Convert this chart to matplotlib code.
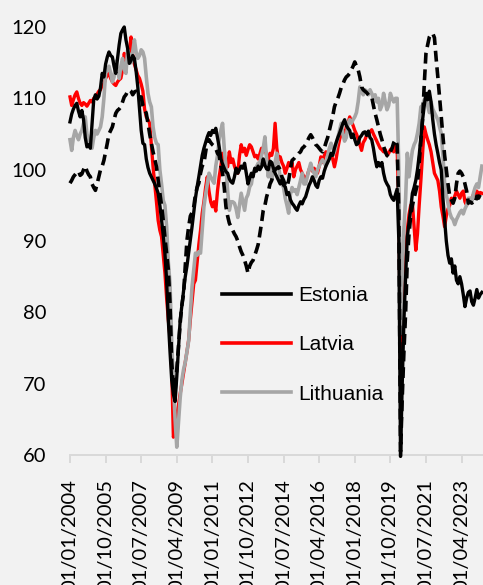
import matplotlib
matplotlib.use('Agg')
import matplotlib.pyplot as plt
import numpy as np
import pandas as pd

# monthly values, Jan 2004 - Apr 2024
estonia = [
    106.7, 107.8, 108.5, 109.0, 109.3, 108.2, 107.4, 108.3, 107.0, 104.5, 103.2, 103.5,
    103.0, 106.5, 109.8, 110.5, 109.9, 110.3, 111.5, 113.5, 113.0, 114.8, 115.8, 116.5,
    116.0, 115.8, 114.5, 113.5, 115.5, 117.5, 119.1, 119.6, 120.0, 118.2, 117.0, 114.9,
    115.3, 116.0, 115.6, 113.8, 111.6, 108.5, 105.5, 103.7, 103.5, 101.5, 100.3, 99.5,
    99.0, 98.5, 98.0, 97.4, 96.7, 95.0, 93.0, 90.8, 88.3, 84.5, 78.9, 74.5,
    70.5, 68.5, 67.5, 71.0, 75.0, 78.9, 81.0, 83.0, 85.0, 86.5, 88.3, 90.0,
    92.0, 94.0, 96.0, 97.6, 99.0, 100.5, 102.0, 103.0, 103.8, 104.6, 105.2, 104.8,
    105.5, 105.2, 105.8, 104.5, 103.2, 101.5, 100.8, 100.2, 99.7, 99.5, 98.7, 98.3,
    98.1, 99.0, 100.2, 99.5, 100.0, 100.5, 100.2, 100.9, 99.5, 98.0, 98.8, 99.5,
    99.0, 100.2, 99.8, 100.5, 100.0, 100.4, 101.5, 100.6, 100.1, 100.0, 101.2, 101.0,
    100.2, 99.5, 99.0, 98.5, 98.0, 98.6, 97.8, 97.6, 96.5, 96.8, 95.8, 95.3,
    95.0, 94.6, 94.3, 95.0, 95.5, 95.2, 95.8, 96.2, 97.0, 97.8, 98.3, 99.0,
    98.5, 97.8, 97.5, 98.5, 99.0, 98.8, 99.8, 100.5, 101.0, 101.5, 102.3, 102.0,
    103.0, 103.8, 104.5, 105.1, 105.8, 106.5, 107.0, 106.2, 105.8, 105.5, 104.5, 105.0,
    104.2, 103.5, 103.7, 104.5, 104.8, 105.2, 105.3, 104.8, 105.4, 104.5, 104.2, 103.0,
    101.5, 100.4, 101.0, 100.5, 101.0, 99.5, 98.5, 98.0, 97.6, 96.5, 96.0, 95.7,
    96.5, 97.3, 90.0, 59.8, 70.0, 78.9, 85.0, 90.6, 92.5, 94.5, 96.7, 97.5,
    98.5, 100.0, 102.0, 104.5, 107.0, 109.0, 110.7, 109.8, 111.0, 109.5, 107.0, 105.0,
    103.5, 102.3, 101.0, 100.0, 96.0, 92.9, 90.0, 88.0, 86.9, 87.5, 85.5, 86.5,
    84.5, 84.0, 85.0, 84.0, 82.5, 80.8, 82.0, 82.8, 83.0, 81.5, 81.0, 82.0,
    83.2, 82.0, 82.5, 82.8,
]

latvia = [
    110.2, 109.0, 109.8, 110.5, 110.9, 110.0, 109.3, 109.0, 109.4, 109.2, 108.9, 109.3,
    109.7, 109.5, 110.0, 110.2, 110.6, 111.0, 111.2, 111.8, 112.0, 112.8, 113.2, 113.5,
    112.8, 112.3, 112.0, 111.8, 112.3, 112.6, 112.8, 114.0, 116.3, 115.5, 115.0, 116.5,
    118.6, 116.0, 114.8, 114.0, 113.2, 112.8, 112.0, 111.0, 108.5, 107.4, 107.0, 106.5,
    103.5, 100.4, 98.0, 95.5, 92.9, 91.5, 90.6, 88.0, 85.5, 82.0, 79.0, 76.5,
    72.0, 62.5, 63.5, 65.5, 67.0, 68.6, 70.0, 71.5, 73.0, 74.5, 76.1, 79.0,
    81.5, 84.0, 84.5, 87.0, 89.5, 91.5, 93.9, 95.5, 97.5, 99.0, 97.0, 95.5,
    94.8, 95.5, 94.2, 97.0, 99.0, 100.5, 102.3, 101.5, 101.0, 100.4, 102.5, 101.0,
    101.5, 100.5, 99.8, 99.5, 102.0, 103.5, 102.5, 103.0, 102.0, 102.8, 103.5, 103.2,
    102.5, 101.8, 102.0, 101.5, 102.2, 103.0, 102.5, 103.0, 102.0, 101.5, 102.3, 102.0,
    103.0, 106.5, 103.0, 101.4, 101.8, 101.0, 100.5, 99.5, 100.2, 101.0, 100.5, 101.0,
    99.0, 100.0, 100.5, 101.0, 100.0, 99.5, 99.0, 98.6, 99.2, 100.0, 100.5, 99.8,
    100.2, 99.8, 99.5, 100.5, 101.8, 101.0, 102.0, 102.5, 102.2, 101.8, 102.0, 101.5,
    100.4, 101.5, 103.0, 104.2, 105.1, 105.5, 104.5, 106.0, 106.5, 107.4, 106.8, 106.2,
    105.5, 105.0, 104.3, 103.5, 102.7, 103.8, 104.2, 104.8, 105.0, 105.3, 105.6, 105.0,
    104.5, 104.0, 103.5, 103.0, 102.8, 102.5, 102.8, 102.0, 102.3, 102.8, 103.0, 102.5,
    103.5, 103.0, 95.0, 73.3, 77.0, 83.6, 88.0, 91.5, 93.7, 95.0, 95.3, 92.0,
    88.7, 91.0, 95.0, 98.5, 102.3, 106.0, 105.0, 104.2, 103.5, 102.5, 101.0, 99.5,
    99.0, 98.5, 97.0, 94.8, 93.5, 92.0, 93.5, 94.5, 95.0, 96.0, 95.5, 96.3,
    97.0, 96.5, 96.0, 96.7, 97.0, 95.5, 95.0, 95.8, 95.5, 96.0, 96.5, 96.7,
    97.0, 96.5, 96.8, 96.7,
]

lithuania = [
    104.2, 102.7, 104.5, 105.5, 104.8, 104.2, 105.0, 105.5, 106.5, 107.4, 105.0, 104.2,
    103.2, 103.0, 104.5, 105.5, 105.0, 105.5, 106.0, 107.4, 110.0, 113.5, 114.0, 114.5,
    113.5, 112.3, 113.0, 115.2, 114.0, 112.8, 114.5, 115.6, 114.0, 113.5, 116.8, 116.0,
    115.0, 116.5, 118.2, 116.5, 115.6, 116.0, 116.8, 116.5, 115.6, 113.0, 110.7, 109.5,
    108.8, 106.0, 104.5, 103.7, 103.5, 100.0, 98.0, 95.7, 95.0, 92.0, 87.0, 84.0,
    76.0, 70.0, 65.0, 61.1, 64.5, 68.0, 70.5, 72.0, 73.0, 74.5, 76.0, 80.0,
    83.6, 86.0, 88.3, 88.0, 88.5, 88.3, 91.5, 94.8, 96.5, 98.0, 99.5, 99.0,
    98.5, 98.1, 100.5, 102.0, 104.2, 105.5, 106.5, 103.0, 100.4, 97.0, 94.3, 95.5,
    95.5, 95.3, 94.5, 93.3, 95.0, 96.7, 95.5, 94.3, 96.0, 96.5, 97.6, 98.0,
    99.5, 100.0, 100.4, 100.9, 101.0, 102.0, 103.0, 104.6, 101.4, 99.0, 101.0, 98.6,
    100.0, 101.0, 102.3, 100.5, 99.0, 98.0, 97.5, 96.0, 95.0, 93.9, 96.5, 97.5,
    97.0, 97.2, 96.5, 97.5, 98.5, 99.5, 98.0, 98.0, 99.0, 100.0, 100.9, 100.0,
    99.5, 99.0, 100.0, 100.5, 101.0, 101.4, 101.0, 100.5, 102.0, 103.0, 103.7, 103.0,
    102.5, 103.5, 104.5, 105.5, 106.5, 105.0, 104.0, 104.5, 106.5, 107.0, 106.5, 107.0,
    107.4, 108.0, 109.5, 111.6, 111.0, 110.5, 111.2, 111.0, 110.5, 111.2, 110.7, 110.0,
    110.5, 109.5, 110.0, 108.4, 109.0, 110.7, 109.5, 108.4, 109.0, 110.7, 110.0, 109.5,
    110.0, 110.0, 100.0, 77.0, 85.0, 91.8, 96.0, 102.3, 99.0, 101.0, 102.7, 103.5,
    104.0, 105.1, 106.5, 108.8, 109.0, 109.8, 110.0, 109.0, 108.0, 109.5, 108.5, 108.0,
    107.5, 107.0, 106.0, 105.1, 102.0, 98.1, 96.5, 95.3, 94.0, 93.3, 93.0, 92.3,
    93.0, 93.5, 94.0, 94.3, 93.8, 94.5, 95.0, 96.0, 96.0, 95.5, 96.7, 97.5,
    98.0, 97.5, 99.0, 100.5,
]

# dashed black series, not in the legend
other = [
    98.1, 98.5, 99.0, 99.3, 99.6, 99.8, 99.2, 99.4, 100.0, 100.5, 99.8, 99.3,
    99.0, 98.0, 97.5, 97.1, 98.0, 99.0, 100.0, 100.5, 101.3, 102.5, 103.7, 105.0,
    105.5, 106.0, 107.0, 107.9, 108.3, 108.5, 108.8, 109.5, 110.2, 110.5, 111.0, 111.2,
    111.0, 110.5, 110.9, 111.0, 110.6, 110.2, 110.2, 109.0, 108.5, 107.9, 106.5, 105.0,
    103.7, 102.5, 101.5, 100.4, 98.5, 96.7, 95.0, 92.9, 90.5, 88.3, 86.0, 81.3,
    73.0, 69.5, 69.1, 72.0, 75.2, 78.5, 81.0, 82.6, 86.5, 90.1, 92.0, 93.5,
    94.0, 94.8, 96.5, 97.5, 98.1, 99.5, 100.5, 100.9, 102.5, 104.0, 104.2, 103.8,
    103.5, 103.3, 103.0, 102.3, 102.0, 100.5, 99.5, 97.5, 94.8, 93.5, 92.5, 92.0,
    91.5, 91.0, 90.6, 90.0, 89.2, 88.5, 88.0, 87.3, 86.5, 85.5, 86.5, 87.0,
    87.3, 88.0, 88.7, 89.5, 91.0, 92.5, 94.3, 95.0, 96.2, 97.0, 98.0, 98.5,
    99.5, 100.0, 100.2, 100.4, 100.0, 99.0, 98.5, 97.8, 97.6, 98.5, 100.0, 101.3,
    101.5, 101.8, 102.0, 102.3, 102.5, 103.0, 103.2, 103.5, 104.0, 104.5, 104.9, 104.5,
    104.0, 103.5, 103.3, 103.0, 102.7, 102.5, 103.0, 103.8, 104.5, 105.5, 106.5, 107.5,
    108.8, 109.5, 110.0, 110.7, 111.5, 112.0, 112.6, 113.0, 113.2, 113.5, 114.0, 114.5,
    115.1, 114.5, 114.0, 113.0, 111.6, 111.2, 111.0, 110.8, 110.5, 110.2, 110.2, 109.0,
    107.9, 107.0, 106.0, 105.0, 104.2, 103.3, 102.5, 102.0, 101.8, 102.5, 103.0, 103.8,
    104.2, 103.5, 94.0, 60.5, 68.0, 74.5, 80.0, 87.4, 91.0, 93.5, 95.0, 96.0,
    97.0, 98.0, 101.0, 104.0, 107.0, 112.0, 116.3, 117.5, 118.6, 119.0, 119.1, 118.5,
    115.6, 113.0, 110.2, 107.5, 104.7, 102.0, 100.0, 98.0, 96.3, 95.8, 95.3, 96.0,
    98.0, 99.5, 99.8, 99.5, 99.0, 98.0, 97.0, 95.3, 95.5, 95.3, 95.5, 95.3,
    96.3, 96.0, 96.5, 96.7,
]

tick_labels = ['01/01/2004', '01/10/2005', '01/07/2007', '01/04/2009', '01/01/2011',
               '01/10/2012', '01/07/2014', '01/04/2016', '01/01/2018', '01/10/2019',
               '01/07/2021', '01/04/2023']

months = pd.date_range('2004-01-01', periods=len(estonia), freq='MS')
month_labels = list(months.strftime('%d/%m/%Y'))
x = np.arange(len(months))
tick_pos = [month_labels.index(t) for t in tick_labels]

bg = '#F2F2F2'
fig = plt.figure(figsize=(4.83, 5.85), dpi=100, facecolor=bg)
ax = fig.add_axes([70 / 483, 130 / 585, 413 / 483, 428 / 585], facecolor=bg)

ax.plot(x, latvia, color='#FF0000', lw=2.4, label='Latvia', clip_on=False, zorder=2)
ax.plot(x, lithuania, color='#A6A6A6', lw=2.6, label='Lithuania', clip_on=False, zorder=3)
ax.plot(x, estonia, color='black', lw=2.4, label='Estonia', clip_on=False, zorder=4)
ax.plot(x, other, color='black', lw=2.6, ls=(0, (3, 1.6)), label='_nolegend_',
        clip_on=False, zorder=5)

ax.set_xlim(0, 243.65)
ax.set_ylim(60, 120)
ax.set_yticks(range(60, 121, 10))
ax.set_xticks(tick_pos)
ax.set_xticklabels(tick_labels, rotation=90, va='top', ha='center')

for s in ['top', 'right', 'left']:
    ax.spines[s].set_visible(False)
ax.spines['bottom'].set_color('#D9D9D9')
ax.spines['bottom'].set_linewidth(1.4)
ax.spines['bottom'].set_zorder(1)
ax.tick_params(axis='y', length=0, pad=17, labelsize=14.5, labelcolor='black')
ax.tick_params(axis='x', length=5.5, width=1.4, color='#D9D9D9', pad=12,
               labelsize=14.5, labelcolor='black')
for lab in ax.get_xticklabels() + ax.get_yticklabels():
    lab.set_fontfamily('Lato')

# legend order as in the picture
h, l = ax.get_legend_handles_labels()
order = [l.index('Estonia'), l.index('Latvia'), l.index('Lithuania')]
leg = fig.legend([h[i] for i in order], [l[i] for i in order],
                 loc='center left', bbox_to_anchor=(222 / 483, (585 - 345) / 585),
                 frameon=False, borderpad=0, borderaxespad=0,
                 handlelength=3.3, handletextpad=0.35, labelspacing=1.45,
                 prop={'family': 'Liberation Sans', 'size': 15})
for line in leg.get_lines():
    line.set_linewidth(2.6)

fig.savefig('out.png', dpi=100, facecolor=bg)
